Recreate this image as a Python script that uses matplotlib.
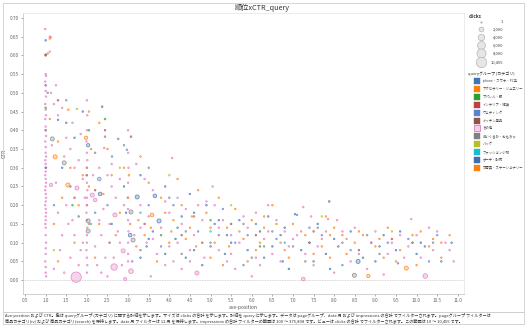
import matplotlib
matplotlib.use("Agg")
import matplotlib.pyplot as plt
from matplotlib.patches import Rectangle

plt.rcParams['font.family'] = ['Noto Sans CJK JP', 'DejaVu Sans']

W, H = 529, 328

categories = ["iphone・スマホ・PC系", "アクセサリー・ジュエリー", "アパレル・服", "インテリア・雑貨",
              "ウェディング", "キッチン用品", "その他", "ぬいぐるみ・おもちゃ", "バッグ",
              "ファッション小物", "ポーチ・財布", "文房具・ステーショナリー"]
colors = ["#3f74b8", "#ff7f0e", "#2ca02c", "#c04040", "#5b82d0", "#8c564b", "#e377c2",
          "#7f7f7f", "#bcbd22", "#17becf", "#3e6db0", "#ff7f0e"]

size_legend = [1, 2000, 4000, 6000, 8000, 10455]
size_labels = ["1", "2,000", "4,000", "6,000", "8,000", "10,455"]

xticks = [0.5 * i for i in range(1, 23)]
yticks = [0.05 * i for i in range(0, 15)]

# (ave-position, CTR, clicks)
iphone = [(1.0, 0.64, 120), (1.3, 0.428, 100), (1.5, 0.42, 100), (2.03, 0.36, 1000), (2.37, 0.463, 150),
          (1.7, 0.38, 100), (1.9, 0.45, 100), (1.4, 0.30, 100), (1.6, 0.25, 100), (1.8, 0.17, 100),
          (3.3, 0.28, 100), (3.9, 0.25, 100), (4.5, 0.23, 100), (5.1, 0.15, 100), (5.7, 0.16, 100),
          (6.4, 0.17, 100), (7.05, 0.176, 100), (7.88, 0.21, 150), (8.4, 0.13, 100), (9.2, 0.12, 100),
          (10.2, 0.09, 100), (10.85, 0.10, 100), (4.4, 0.06, 100), (1.0, 0.52, 100), (2.95, 0.18, 100),
          (3.45, 0.09, 100), (5.35, 0.07, 100), (6.75, 0.05, 100),
          (3.6, 0.13, 100), (3.9, 0.07, 100), (4.2, 0.14, 100), (4.6, 0.18, 100), (5.0, 0.09, 100),
          (5.4, 0.12, 100), (5.9, 0.08, 100), (6.3, 0.06, 100), (6.7, 0.12, 100), (7.2, 0.08, 100),
          (7.6, 0.15, 100), (8.0, 0.11, 100), (8.7, 0.06, 100), (9.1, 0.09, 100), (9.6, 0.13, 100),
          (10.0, 0.07, 100), (10.6, 0.05, 100), (3.3, 0.06, 100), (4.8, 0.04, 100), (7.9, 0.03, 100)]
accessory = [(1.1, 0.645, 150), (1.12, 0.648, 150), (1.23, 0.329, 1500), (1.54, 0.254, 1500),
             (1.98, 0.38, 1000), (1.55, 0.455, 120), (1.1, 0.43, 100), (1.3, 0.37, 100), (1.6, 0.30, 100),
             (1.4, 0.22, 100), (1.8, 0.20, 100), (2.05, 0.45, 100), (2.1, 0.35, 100), (2.0, 0.30, 150),
             (2.05, 0.25, 100), (2.0, 0.20, 100), (2.3, 0.42, 100), (2.5, 0.35, 100), (2.6, 0.28, 100),
             (2.8, 0.18, 100), (3.02, 0.28, 150), (3.0, 0.22, 100), (3.58, 0.174, 1200), (3.5, 0.26, 100),
             (3.8, 0.22, 100), (4.2, 0.27, 100), (4.5, 0.14, 100), (4.9, 0.18, 100), (5.4, 0.14, 100),
             (5.8, 0.11, 100), (6.3, 0.14, 100), (6.7, 0.10, 100), (7.3, 0.12, 100), (8.0, 0.14, 100),
             (8.7, 0.12, 100), (9.3, 0.14, 100), (9.75, 0.032, 1500), (10.1, 0.13, 100), (10.6, 0.06, 100),
             (6.1, 0.08, 100), (5.0, 0.06, 100), (1.3, 0.05, 100), (3.25, 0.16, 100), (4.65, 0.09, 100),
             (7.9, 0.06, 100), (9.9, 0.10, 100),
             (3.7, 0.05, 100), (4.1, 0.16, 100), (4.4, 0.11, 100), (5.1, 0.10, 100), (5.3, 0.04, 100),
             (5.7, 0.13, 100), (6.2, 0.10, 100), (6.6, 0.15, 100), (6.9, 0.06, 100), (7.4, 0.10, 100),
             (7.8, 0.17, 100), (8.2, 0.12, 100), (8.5, 0.10, 100), (9.1, 0.11, 100), (9.6, 0.08, 100),
             (10.0, 0.04, 100), (10.3, 0.09, 100), (10.8, 0.12, 100), (3.2, 0.09, 100), (2.3, 0.15, 100)]
apparel = [(1.0, 0.46, 120), (2.44, 0.43, 150), (2.05, 0.40, 100), (1.65, 0.20, 100), (3.8, 0.12, 100),
           (6.2, 0.09, 100), (7.5, 0.05, 100), (5.0, 0.16, 100)]
interior = [(1.0, 0.60, 150), (1.3, 0.48, 100), (2.44, 0.40, 100), (1.7, 0.22, 100), (2.2, 0.24, 100),
            (3.4, 0.15, 100), (4.8, 0.10, 100), (6.1, 0.12, 100), (7.5, 0.13, 100), (9.4, 0.11, 100)]
wedding = [(2.76, 0.377, 150), (2.61, 0.33, 100), (2.3, 0.27, 1200), (2.97, 0.348, 100), (1.2, 0.20, 100),
           (2.2, 0.18, 100), (2.5, 0.20, 100), (3.5, 0.20, 100), (4.1, 0.20, 100), (4.7, 0.13, 100),
           (5.3, 0.19, 100), (5.9, 0.12, 100), (6.6, 0.11, 100), (7.1, 0.174, 100), (7.7, 0.12, 100),
           (8.9, 0.10, 100), (9.8, 0.11, 100), (10.5, 0.12, 100), (3.1, 0.05, 100), (5.8, 0.04, 100),
           (8.2, 0.04, 100), (9.55, 0.045, 100),
           (3.8, 0.09, 100), (4.4, 0.13, 100), (5.6, 0.10, 100), (6.1, 0.15, 100), (7.4, 0.14, 100),
           (8.4, 0.08, 100), (9.3, 0.10, 100), (10.3, 0.05, 100)]
kitchen = [(1.0, 0.602, 100), (3.07, 0.383, 120), (5.5, 0.15, 100), (8.6, 0.08, 100), (2.55, 0.10, 100),
           (4.3, 0.12, 100)]
other = [(0.99, 0.67, 100), (1.0, 0.55, 100), (1.01, 0.545, 100), (0.99, 0.53, 100), (1.0, 0.52, 100),
         (1.0, 0.505, 100), (1.01, 0.49, 100), (0.99, 0.47, 100), (1.0, 0.455, 100), (1.01, 0.44, 100),
         (0.99, 0.43, 100), (1.0, 0.41, 100), (1.0, 0.40, 100), (1.01, 0.385, 100), (0.99, 0.37, 100),
         (1.0, 0.355, 100), (1.0, 0.34, 100), (1.01, 0.33, 100), (0.99, 0.32, 100), (1.0, 0.31, 100),
         (1.01, 0.30, 100), (1.0, 0.29, 100), (0.99, 0.28, 100), (1.0, 0.27, 100), (1.01, 0.26, 100),
         (1.0, 0.25, 100), (0.99, 0.24, 100), (1.0, 0.23, 100), (1.01, 0.22, 100), (1.0, 0.21, 100),
         (0.99, 0.20, 100), (1.0, 0.19, 100), (1.01, 0.18, 100), (1.0, 0.17, 100), (1.0, 0.16, 100),
         (0.99, 0.15, 100), (1.0, 0.14, 100), (1.0, 0.12, 100), (1.01, 0.10, 100), (1.0, 0.085, 100),
         (1.0, 0.07, 100), (0.99, 0.05, 100), (1.0, 0.035, 100), (1.0, 0.02, 100), (1.01, 0.01, 100),
         (1.1, 0.65, 100), (1.1, 0.61, 100), (1.13, 0.50, 100), (1.2, 0.47, 100), (1.13, 0.254, 1000),
         (1.3, 0.44, 100), (1.25, 0.52, 100), (1.4, 0.46, 100), (1.5, 0.38, 100), (1.6, 0.35, 100),
         (1.45, 0.33, 100), (1.7, 0.30, 100), (1.8, 0.32, 100), (1.76, 0.246, 1500), (1.5, 0.20, 100),
         (1.3, 0.18, 100), (1.55, 0.15, 100), (1.7, 0.12, 100), (1.9, 0.10, 100), (1.35, 0.08, 100),
         (1.6, 0.06, 100), (1.8, 0.04, 100), (1.2, 0.03, 100), (1.74, 0.008, 10455), (1.45, 0.02, 100),
         (1.9, 0.27, 100), (1.95, 0.22, 100), (1.65, 0.42, 100), (1.85, 0.39, 100),
         (2.0, 0.48, 100), (2.01, 0.44, 100), (2.0, 0.40, 100), (1.99, 0.37, 100), (2.0, 0.34, 100),
         (2.01, 0.32, 100), (2.0, 0.30, 100), (1.99, 0.28, 100), (2.0, 0.26, 100), (2.01, 0.24, 100),
         (2.0, 0.22, 100), (2.0, 0.20, 100), (1.99, 0.18, 100), (2.0, 0.16, 100), (2.01, 0.14, 100),
         (2.0, 0.12, 100), (2.0, 0.10, 100), (1.99, 0.08, 100), (2.0, 0.06, 100), (2.01, 0.04, 100),
         (2.0, 0.02, 100),
         (2.13, 0.227, 1500), (2.2, 0.214, 1200), (2.68, 0.174, 1500), (2.66, 0.035, 4000),
         (2.88, 0.078, 1500), (2.93, 0.003, 800), (3.07, 0.024, 2000), (2.42, 0.353, 100), (2.3, 0.30, 100),
         (2.5, 0.28, 100), (2.6, 0.25, 100), (2.7, 0.22, 100), (2.4, 0.19, 100), (2.55, 0.15, 100),
         (2.35, 0.12, 100), (2.8, 0.10, 100), (2.45, 0.06, 100), (2.25, 0.04, 100), (2.6, 0.31, 100),
         (2.8, 0.27, 100), (2.9, 0.20, 100), (2.75, 0.13, 100), (2.2, 0.09, 100), (2.5, 0.01, 100),
         (2.35, 0.02, 100),
         (3.0, 0.40, 100), (3.0, 0.34, 100), (3.01, 0.30, 100), (3.0, 0.26, 100), (2.99, 0.22, 100),
         (3.0, 0.19, 100), (3.0, 0.16, 100), (3.01, 0.13, 100), (3.0, 0.10, 100), (3.0, 0.07, 100),
         (3.0, 0.05, 100),
         (3.2, 0.31, 100), (3.4, 0.27, 100), (3.6, 0.24, 100), (3.3, 0.20, 100), (3.5, 0.17, 100),
         (3.8, 0.14, 100), (3.45, 0.10, 100), (3.7, 0.07, 100), (3.9, 0.04, 100), (4.07, 0.326, 100),
         (4.2, 0.22, 100), (4.4, 0.19, 100), (4.3, 0.15, 100), (4.6, 0.12, 100), (4.5, 0.08, 100),
         (4.67, 0.019, 1500), (4.1, 0.05, 100), (4.8, 0.16, 100), (4.9, 0.21, 100), (3.55, 0.01, 100),
         (4.3, 0.03, 100), (4.85, 0.06, 100), (3.15, 0.12, 100), (4.0, 0.09, 100), (4.0, 0.18, 100),
         (5.1, 0.20, 100), (5.3, 0.16, 100), (5.5, 0.12, 100), (5.2, 0.08, 100), (5.7, 0.10, 100),
         (5.9, 0.14, 100), (6.1, 0.18, 100), (6.3, 0.11, 100), (6.5, 0.07, 100), (6.2, 0.04, 100),
         (6.8, 0.13, 100), (5.6, 0.03, 100), (6.6, 0.16, 100), (5.05, 0.25, 100), (6.0, 0.01, 100),
         (5.4, 0.05, 100), (6.9, 0.09, 100), (6.4, 0.20, 100),
         (7.25, 0.195, 100), (7.44, 0.17, 100), (7.85, 0.163, 100), (8.07, 0.16, 100), (9.87, 0.163, 100),
         (7.25, 0.003, 1200), (10.21, 0.011, 2000), (7.1, 0.12, 100), (7.6, 0.09, 100), (8.3, 0.11, 100),
         (8.6, 0.07, 100), (9.0, 0.13, 100), (9.4, 0.10, 100), (9.7, 0.06, 100), (10.0, 0.12, 100),
         (10.4, 0.08, 100), (10.7, 0.10, 100), (7.5, 0.04, 100), (8.8, 0.03, 100), (9.2, 0.015, 100),
         (8.0, 0.02, 100), (7.8, 0.13, 100), (8.5, 0.14, 100), (9.6, 0.12, 100), (10.9, 0.05, 100),
         (10.3, 0.14, 100),
         (3.3, 0.14, 100), (3.6, 0.11, 100), (3.9, 0.21, 100), (4.2, 0.10, 100), (4.5, 0.05, 100),
         (4.7, 0.20, 100), (5.2, 0.14, 100), (5.5, 0.07, 100), (5.8, 0.17, 100), (6.1, 0.06, 100),
         (6.4, 0.13, 100), (6.7, 0.05, 100), (7.0, 0.11, 100), (7.3, 0.07, 100), (7.7, 0.11, 100),
         (8.2, 0.13, 100), (8.4, 0.05, 100), (8.9, 0.10, 100), (9.3, 0.07, 100), (9.8, 0.09, 100),
         (10.1, 0.06, 100), (10.5, 0.13, 100), (10.8, 0.08, 100), (1.15, 0.36, 100), (1.25, 0.26, 100),
         (1.4, 0.12, 100), (1.65, 0.16, 100), (1.85, 0.08, 100), (2.15, 0.28, 100), (2.3, 0.16, 100),
         (2.65, 0.06, 100), (2.85, 0.04, 100)]
toys = [(1.16, 0.377, 1500), (1.45, 0.313, 1500), (2.44, 0.383, 120), (2.03, 0.158, 1500),
        (2.03, 0.131, 1500), (3.07, 0.182, 1500), (3.12, 0.107, 1500), (8.49, 0.013, 1500), (1.0, 0.40, 100),
        (1.5, 0.48, 100), (2.0, 0.28, 100), (2.2, 0.34, 100), (2.9, 0.36, 100), (3.5, 0.30, 100),
        (4.0, 0.22, 100), (4.6, 0.17, 100), (5.2, 0.12, 100), (5.8, 0.15, 100), (6.5, 0.13, 100),
        (7.0, 0.09, 100), (7.6, 0.14, 100), (8.2, 0.10, 100), (9.1, 0.07, 100), (9.9, 0.10, 100),
        (6.0, 0.06, 100), (1.05, 0.50, 100),
        (3.3, 0.08, 100), (4.3, 0.07, 100), (5.0, 0.10, 100), (6.3, 0.09, 100), (7.3, 0.05, 100),
        (8.8, 0.12, 100), (10.4, 0.10, 100)]
bag = [(1.76, 0.457, 100), (2.8, 0.30, 100), (4.0, 0.28, 100), (5.5, 0.20, 100), (7.7, 0.17, 100),
       (9.4, 0.13, 100), (1.2, 0.08, 100)]
fashion = [(2.1, 0.15, 100), (3.3, 0.18, 100), (5.0, 0.13, 100), (6.8, 0.10, 100)]
pouch = [(2.32, 0.23, 1200), (3.22, 0.222, 1500), (3.05, 0.12, 1200), (3.75, 0.158, 1500),
         (3.65, 0.225, 1200), (2.6, 0.15, 100), (2.9, 0.25, 100), (4.3, 0.17, 100), (4.9, 0.20, 100),
         (5.5, 0.10, 100), (6.2, 0.13, 100), (6.8, 0.14, 100), (7.4, 0.10, 100), (8.1, 0.09, 100),
         (8.58, 0.05, 1500), (9.5, 0.08, 100), (6.9, 0.03, 100), (1.0, 0.30, 100), (4.15, 0.11, 100),
         (3.5, 0.11, 100), (4.6, 0.08, 100), (5.2, 0.16, 100), (6.5, 0.09, 100), (7.8, 0.07, 100),
         (9.0, 0.05, 100), (10.1, 0.10, 100)]
stationery = [(1.05, 0.605, 100), (1.9, 0.28, 100), (1.2, 0.15, 100), (1.7, 0.10, 100), (2.05, 0.15, 100),
              (2.4, 0.23, 100), (2.7, 0.12, 100), (2.9, 0.30, 100), (3.05, 0.15, 100), (3.3, 0.33, 100),
              (3.4, 0.12, 100), (3.9, 0.18, 100), (4.3, 0.20, 100), (4.7, 0.24, 100), (5.2, 0.22, 100),
              (5.6, 0.19, 100), (6.0, 0.16, 100), (6.5, 0.20, 100), (7.0, 0.15, 100), (7.7, 0.09, 100),
              (8.3, 0.07, 100), (8.83, 0.011, 1000), (9.0, 0.09, 100), (9.5, 0.05, 100), (10.4, 0.11, 100),
              (7.5, 0.07, 100), (4.0, 0.10, 100), (2.2, 0.06, 100),
              (3.55, 0.14, 100), (4.05, 0.13, 100), (4.55, 0.17, 100), (5.0, 0.14, 100), (5.45, 0.09, 100),
              (5.9, 0.05, 100), (6.3, 0.17, 100), (6.8, 0.08, 100), (7.2, 0.13, 100), (7.9, 0.12, 100),
              (8.6, 0.13, 100), (9.2, 0.06, 100), (9.9, 0.12, 100), (10.6, 0.10, 100)]

series = [iphone, accessory, apparel, interior, wedding, kitchen, other, toys, bag, fashion, pouch, stationery]


def msize(c):
    return 0.8 + c * 0.0052


fig = plt.figure(figsize=(W / 100, H / 100), dpi=100)
fig.patch.set_facecolor("white")


def fx(px):
    return px / W


def fy(py):
    return 1 - py / H


ax = fig.add_axes([fx(23), fy(294), (464 - 23) / W, (294 - 13) / H])
ax.set_xlim(0.45, 11.15)
ax.set_ylim(-0.037, 0.713)

for pts, col in zip(series, colors):
    xs = [p[0] for p in pts]
    ys = [p[1] for p in pts]
    ss = [msize(p[2]) for p in pts]
    ax.scatter(xs, ys, s=ss, facecolors=matplotlib.colors.to_rgba(col, 0.3),
               edgecolors=matplotlib.colors.to_rgba(col, 0.85), linewidths=0.5, zorder=3)

ax.axhline(0, color="#c8c8c8", lw=0.6, ls=(0, (1, 1)), zorder=1)
ax.set_xticks(xticks)
ax.set_xticklabels([f"{v:.1f}" for v in xticks])
ax.set_yticks(yticks)
ax.set_yticklabels([f"{v:.2f}" for v in yticks])
ax.tick_params(labelsize=3.4, colors="#666666", length=1.5, width=0.4, pad=1.5)
for sname, sp in ax.spines.items():
    sp.set_color("#bdbdbd" if sname in ("left", "bottom") else "#e3e3e3")
    sp.set_linewidth(0.5)
ax.set_xlabel("ave-position", fontsize=3.6, color="#555555", labelpad=1.5)
ax.set_ylabel("CTR", fontsize=3.6, color="#555555", labelpad=2)

# overlay in pixel coordinates
ov = fig.add_axes([0, 0, 1, 1])
ov.set_xlim(0, W)
ov.set_ylim(H, 0)
ov.axis("off")
ov.patch.set_visible(False)

ov.add_patch(Rectangle((3, 3), 521, 309, fill=False, ec="#cfcfcf", lw=0.6))
ov.add_patch(Rectangle((3, 312), 521, 12, fill=False, ec="#cfcfcf", lw=0.6))

ov.text(262, 7.5, "順位xCTR_query", ha="center", va="center", fontsize=5.2, color="#333333")

ov.text(469, 16, "clicks", ha="left", va="center", fontsize=3.3, color="#333333", fontweight="bold")
size_y = [22, 29, 37, 45, 53, 62]
for v, lab, yy in zip(size_legend, size_labels, size_y):
    ov.scatter([481], [yy], s=msize(v) + 0.5, facecolors="#e6e6e6", edgecolors="#b5b5b5", linewidths=0.5)
    ov.text(503, yy, lab, ha="right", va="center", fontsize=3.0, color="#444444")

ov.text(468, 74, "queryグループ (カテゴリ)", ha="left", va="center", fontsize=2.9, color="#333333")
for i, (name, col) in enumerate(zip(categories, colors)):
    yy = 81 + i * 7.9
    if name == "その他":
        ov.add_patch(Rectangle((474, yy - 3), 6, 6, fc=matplotlib.colors.to_rgba(col, 0.35), ec=col, lw=0.6))
    else:
        ov.add_patch(Rectangle((474, yy - 3), 6, 6, fc=col, ec=col, lw=0.3))
    ov.text(483, yy, name, ha="left", va="center", fontsize=2.45, color="#444444")

foot1 = ("Ave-position および CTR。色は queryグループ (カテゴリ) に関する詳細を示します。サイズは clicks の合計 を示します。"
         "詳細を query に示します。データは pageグループ、date 月 および impressions の合計 でフィルターされます。pageグループ フィルターは")
foot2 = ("商品カテゴリ(iv) および 商品カテゴリ(search) を保持します。date 月 フィルターは 12 月 を保持します。"
         "impressions の合計 フィルターの範囲は 100 ～ 375,808 です。ビューは clicks の合計 でフィルターされます。この範囲は 10 ～ 10,455 です。")
ov.text(5, 315.5, foot1, ha="left", va="center", fontsize=3.0, color="#333333")
ov.text(5, 321, foot2, ha="left", va="center", fontsize=3.0, color="#333333")

fig.savefig("out.png", dpi=100, facecolor="white")
